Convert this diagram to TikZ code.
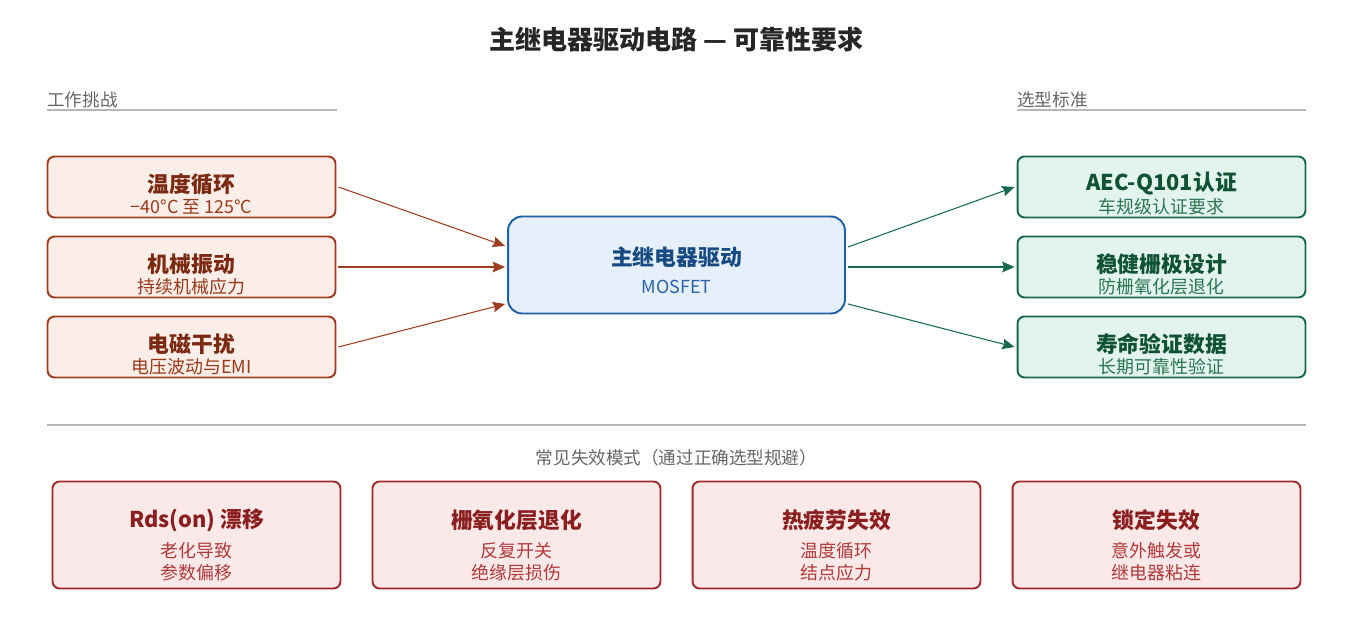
\documentclass[tikz,border=0pt]{standalone}
\usepackage{fontspec}
\setmainfont{Noto Sans CJK SC}
\usetikzlibrary{arrows.meta,calc}

\definecolor{warnline}{HTML}{9E3D20}
\definecolor{warnfill}{HTML}{FBEDE7}
\definecolor{warnhead}{HTML}{7B2A12}
\definecolor{warntext}{HTML}{9A3A1C}
\definecolor{coreline}{HTML}{1F5FA5}
\definecolor{corefill}{HTML}{E6F0FA}
\definecolor{corehead}{HTML}{174A82}
\definecolor{coretext}{HTML}{2B63A6}
\definecolor{specline}{HTML}{17694F}
\definecolor{specfill}{HTML}{E3F4EC}
\definecolor{spechead}{HTML}{0F5238}
\definecolor{spectext}{HTML}{2A7558}
\definecolor{failline}{HTML}{A32A2A}
\definecolor{failfill}{HTML}{FBE9E9}
\definecolor{failhead}{HTML}{8B1E1E}
\definecolor{failtext}{HTML}{B03A3A}
\definecolor{rulegray}{HTML}{B8B8B0}
\definecolor{labelgray}{HTML}{666666}

\begin{document}
\begin{tikzpicture}[x=0.02cm,y=-0.02cm,
    card/.style={rounded corners=4pt,line width=1.1pt,
                 minimum width=5.76cm,minimum height=1.22cm,inner sep=0pt},
    warn/.style={card,draw=warnline,fill=warnfill},
    spec/.style={card,draw=specline,fill=specfill},
    fail/.style={card,draw=failline,fill=failfill,minimum height=2.14cm},
    head/.style={inner sep=0pt,font=\bfseries\fontsize{12.4}{14}\selectfont},
    sub/.style={inner sep=0pt,font=\fontsize{10.2}{12}\selectfont},
    fsub/.style={sub,align=center,font=\fontsize{10.2}{12.4}\selectfont},
    tag/.style={inner sep=0pt,anchor=west,text=labelgray,font=\fontsize{10}{12}\selectfont},
    arr/.style={line width=0.6pt,-{Stealth[length=7pt,width=6pt,inset=1pt]}},
    arrbold/.style={arr,line width=1.2pt}]

    \useasboundingbox (0,0) rectangle (1353,635);

    % title
    \node[inner sep=0pt,text=black!85,font=\bfseries\fontsize{14.8}{17}\selectfont]
        (title) at (676.5,40) {主继电器驱动电路 — 可靠性要求};

    % column headings
    \node[tag] (lefttag) at (47,100) {工作挑战};
    \draw[rulegray,line width=0.6pt] (47,110) -- (337,110);
    \node[tag] (righttag) at (1017,100) {选型标准};
    \draw[rulegray,line width=0.6pt] (1017,110) -- (1306,110);

    % challenges
    \node[warn] (temp) at (191.5,187) {};
    \node[head,text=warnhead] (temp-h) at (191.5,184) {温度循环};
    \node[sub,text=warntext] (temp-s) at (191.5,207) {−40°C 至 125°C};

    \node[warn] (vib) at (191.5,267) {};
    \node[head,text=warnhead] (vib-h) at (191.5,264) {机械振动};
    \node[sub,text=warntext] (vib-s) at (191.5,287) {持续机械应力};

    \node[warn] (emi) at (191.5,347) {};
    \node[head,text=warnhead] (emi-h) at (191.5,344) {电磁干扰};
    \node[sub,text=warntext] (emi-s) at (191.5,367) {电压波动与EMI};

    % driver
    \node[rounded corners=8pt,line width=1.1pt,draw=coreline,fill=corefill,
          minimum width=6.74cm,minimum height=1.94cm,inner sep=0pt]
        (core) at (676.5,265) {};
    \node[head,text=corehead] (core-h) at (676.5,257) {主继电器驱动};
    \node[sub,text=coretext] (core-s) at (676.5,287) {MOSFET};

    % criteria
    \node[spec] (aec) at (1161.5,187) {};
    \node[head,text=spechead] (aec-h) at (1161.5,184) {AEC-Q101认证};
    \node[sub,text=spectext] (aec-s) at (1161.5,207) {车规级认证要求};

    \node[spec] (gate) at (1161.5,267) {};
    \node[head,text=spechead] (gate-h) at (1161.5,264) {稳健栅极设计};
    \node[sub,text=spectext] (gate-s) at (1161.5,287) {防栅氧化层退化};

    \node[spec] (life) at (1161.5,347) {};
    \node[head,text=spechead] (life-h) at (1161.5,344) {寿命验证数据};
    \node[sub,text=spectext] (life-s) at (1161.5,367) {长期可靠性验证};

    % connectors
    \draw[arr,warnline] ($(temp.east)+(2,0)$) -- ($(core.west)+(-2,-19)$);
    \draw[arrbold,warnline] ($(vib.east)+(2,0)$) -- ($(core.west)+(-2,2)$);
    \draw[arr,warnline] ($(emi.east)+(2,0)$) -- ($(core.west)+(-2,39)$);
    \draw[arr,specline] ($(core.east)+(2,-18)$) -- ($(aec.west)+(-2,0)$);
    \draw[arrbold,specline] ($(core.east)+(2,2)$) -- ($(gate.west)+(-2,0)$);
    \draw[arr,specline] ($(core.east)+(2,39)$) -- ($(life.west)+(-2,0)$);

    % failure modes
    \draw[rulegray,line width=0.6pt] (47,425) -- (1306,425);
    \node[inner sep=0pt,text=labelgray,font=\fontsize{10}{12}\selectfont]
        (failtag) at (676.5,458) {常见失效模式（通过正确选型规避）};

    \node[fail] (rds) at (196.5,535) {};
    \node[head,text=failhead] (rds-h) at (196.5,520) {Rds(on) 漂移};
    \node[fsub,text=failtext] (rds-s) at (196.5,562) {老化导致\\参数偏移};

    \node[fail] (oxide) at (516.5,535) {};
    \node[head,text=failhead] (oxide-h) at (516.5,520) {栅氧化层退化};
    \node[fsub,text=failtext] (oxide-s) at (516.5,562) {反复开关\\绝缘层损伤};

    \node[fail] (heat) at (836.5,535) {};
    \node[head,text=failhead] (heat-h) at (836.5,520) {热疲劳失效};
    \node[fsub,text=failtext] (heat-s) at (836.5,562) {温度循环\\结点应力};

    \node[fail] (latch) at (1156.5,535) {};
    \node[head,text=failhead] (latch-h) at (1156.5,520) {锁定失效};
    \node[fsub,text=failtext] (latch-s) at (1156.5,562) {意外触发或\\继电器粘连};
\end{tikzpicture}
\end{document}
